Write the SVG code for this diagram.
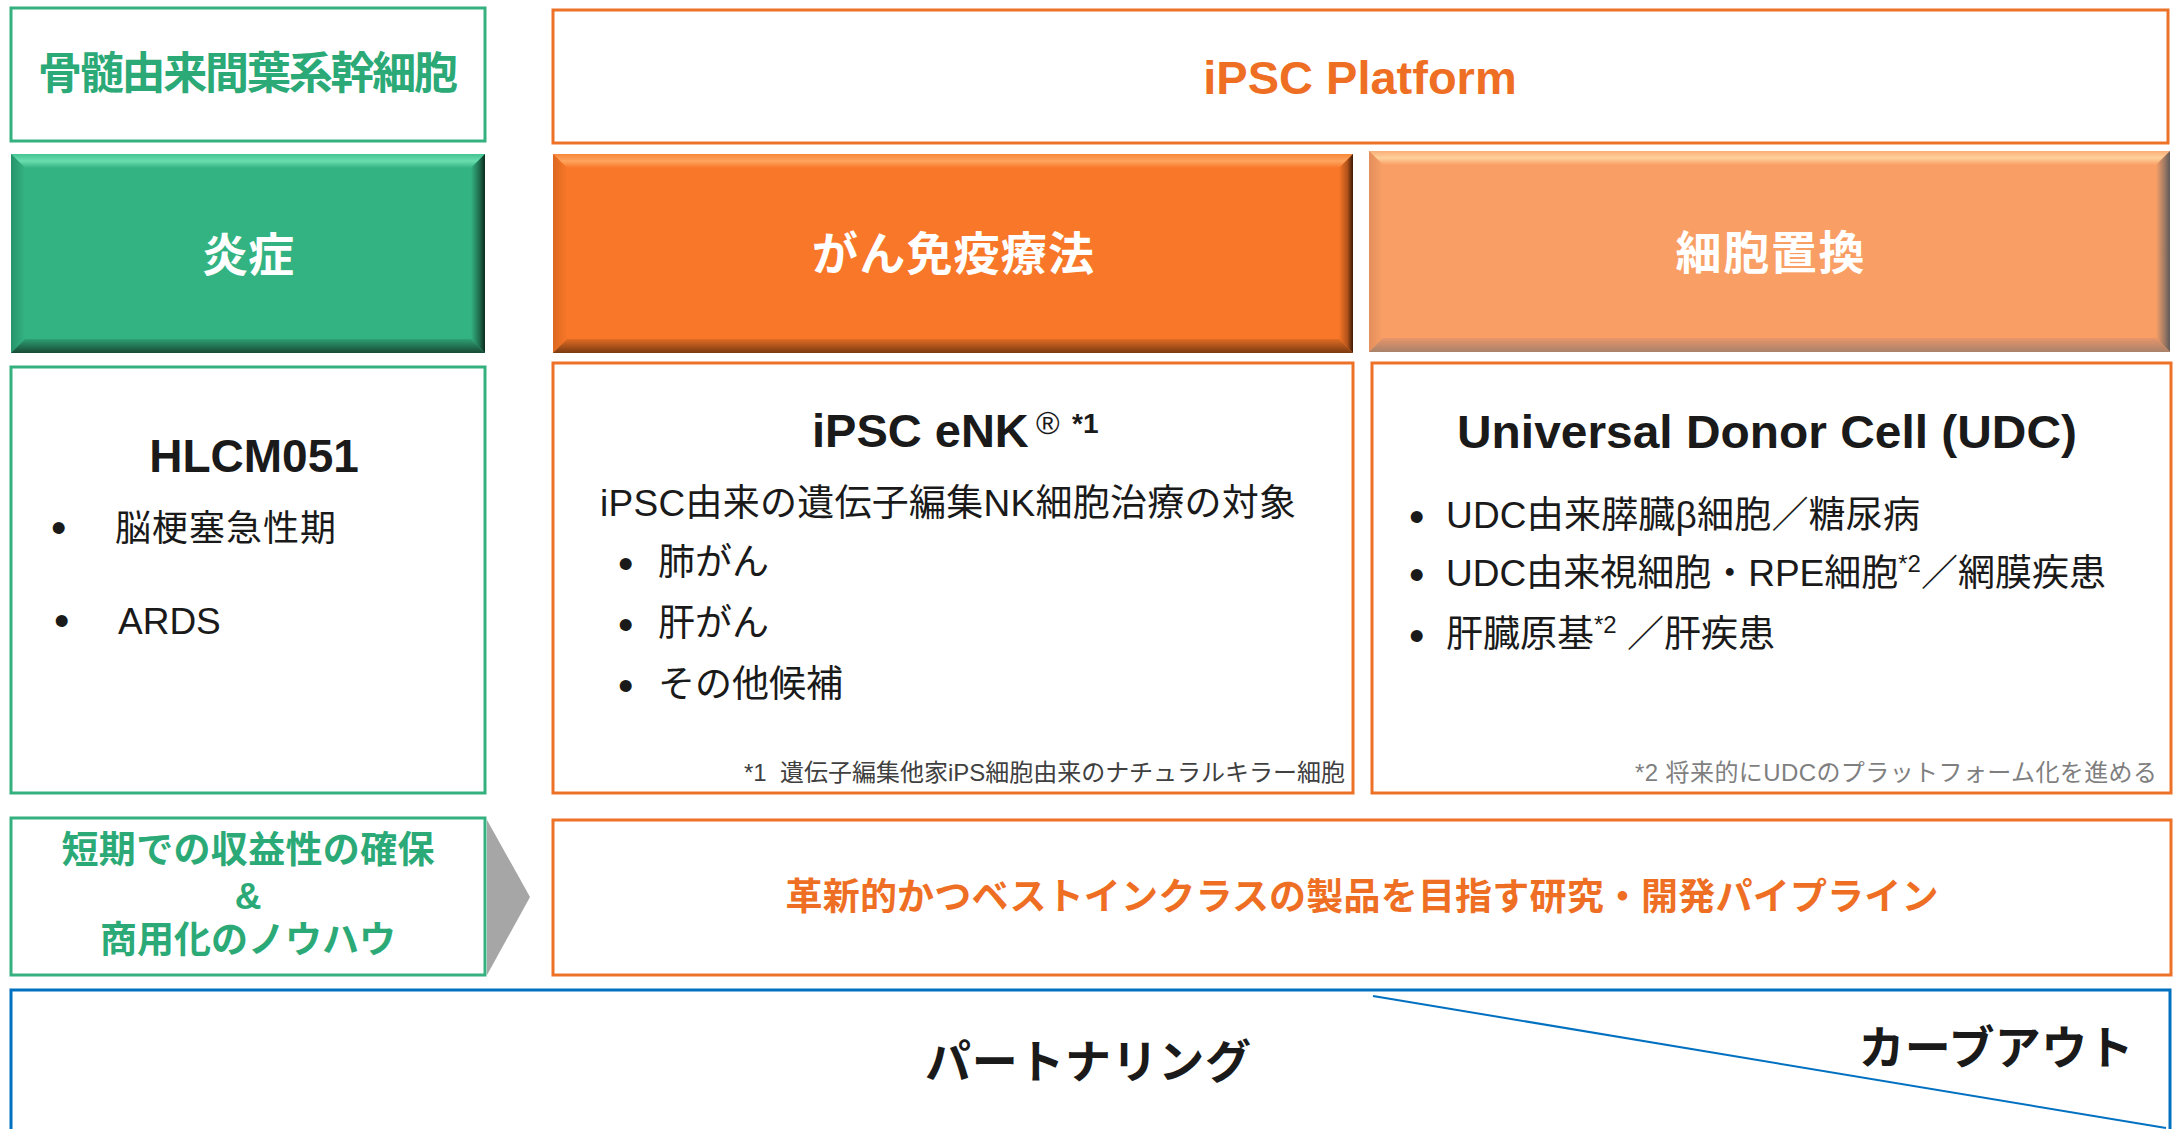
<svg xmlns="http://www.w3.org/2000/svg" width="2175" height="1129" viewBox="0 0 2175 1129">
<style>
.gbox{fill:#fff;stroke:#35B07F;stroke-width:3}
.obox{fill:#fff;stroke:#EE7128;stroke-width:3}
.bbox{fill:#fff;stroke:#0070C0;stroke-width:3}
.jp{font-family:"Liberation Sans","Noto Sans CJK JP",sans-serif}
.b{font-weight:700}
.c{text-anchor:middle}
.e{text-anchor:end}
.green{fill:#2BAA77}
.orange{fill:#EE6F24}
.white{fill:#fff}
.dark{fill:#1a1a1a}
.hd{font-size:46px}
.body{font-size:37px}
.fn{font-size:24px}
.bul{font-size:44px}
</style>
<defs>
<linearGradient id="gT" x1="0" y1="0" x2="0" y2="1"><stop offset="0" stop-color="#45C493"/><stop offset="0.5" stop-color="#6ADDAE"/><stop offset="1" stop-color="#34B382"/></linearGradient>
<linearGradient id="gL" x1="0" y1="0" x2="1" y2="0"><stop offset="0" stop-color="#26936A"/><stop offset="1" stop-color="#34B382"/></linearGradient>
<linearGradient id="gR" x1="0" y1="0" x2="1" y2="0"><stop offset="0" stop-color="#34B382"/><stop offset="0.6" stop-color="#1F6E4E"/><stop offset="1" stop-color="#0B2A1D"/></linearGradient>
<linearGradient id="gB" x1="0" y1="0" x2="0" y2="1"><stop offset="0" stop-color="#2E9F73"/><stop offset="1" stop-color="#174A35"/></linearGradient>
<linearGradient id="oT" x1="0" y1="0" x2="0" y2="1"><stop offset="0" stop-color="#F98838"/><stop offset="0.5" stop-color="#FFA45E"/><stop offset="1" stop-color="#F87729"/></linearGradient>
<linearGradient id="oL" x1="0" y1="0" x2="1" y2="0"><stop offset="0" stop-color="#DC681F"/><stop offset="1" stop-color="#F87729"/></linearGradient>
<linearGradient id="oR" x1="0" y1="0" x2="1" y2="0"><stop offset="0" stop-color="#F87729"/><stop offset="0.6" stop-color="#B0521A"/><stop offset="1" stop-color="#3A1A05"/></linearGradient>
<linearGradient id="oB" x1="0" y1="0" x2="0" y2="1"><stop offset="0" stop-color="#E06C24"/><stop offset="1" stop-color="#7A3A10"/></linearGradient>
<linearGradient id="lT" x1="0" y1="0" x2="0" y2="1"><stop offset="0" stop-color="#FAAE78"/><stop offset="0.5" stop-color="#FFD09A"/><stop offset="1" stop-color="#F99F66"/></linearGradient>
<linearGradient id="lL" x1="0" y1="0" x2="1" y2="0"><stop offset="0" stop-color="#E38F5C"/><stop offset="1" stop-color="#F99F66"/></linearGradient>
<linearGradient id="lR" x1="0" y1="0" x2="1" y2="0"><stop offset="0" stop-color="#F99F66"/><stop offset="0.6" stop-color="#A07A64"/><stop offset="1" stop-color="#5E5A58"/></linearGradient>
<linearGradient id="lB" x1="0" y1="0" x2="0" y2="1"><stop offset="0" stop-color="#E8956A"/><stop offset="1" stop-color="#A8826A"/></linearGradient>
</defs>

<rect width="2175" height="1129" fill="#fff"/>

<g id="msc-header">
<rect class="gbox" x="11" y="8" width="474" height="133"/>
<text class="jp b green c" x="248" y="89" font-size="44" textLength="420" lengthAdjust="spacing">骨髄由来間葉系幹細胞</text>
</g>

<g id="ipsc-platform">
<rect class="obox" x="553" y="10" width="1615" height="133"/>
<text class="jp b orange c" x="1360" y="94" font-size="47">iPSC Platform</text>
</g>

<g id="inflammation">
<rect x="11" y="154" width="474" height="199" fill="#34B382"/>
<polygon points="11,154 485,154 471,168 25,168" fill="url(#gT)"/>
<polygon points="11,154 25,168 25,339 11,353" fill="url(#gL)"/>
<polygon points="485,154 485,353 471,339 471,168" fill="url(#gR)"/>
<polygon points="11,353 25,339 471,339 485,353" fill="url(#gB)"/>
<text class="jp b white c hd" x="248" y="271">炎症</text>
</g>

<g id="cancer-immuno">
<rect x="553" y="154" width="800" height="199" fill="#F87729"/>
<polygon points="553,154 1353,154 1339,168 567,168" fill="url(#oT)"/>
<polygon points="553,154 567,168 567,339 553,353" fill="url(#oL)"/>
<polygon points="1353,154 1353,353 1339,339 1339,168" fill="url(#oR)"/>
<polygon points="553,353 567,339 1339,339 1353,353" fill="url(#oB)"/>
<text class="jp b white c hd" x="953" y="270" textLength="282" lengthAdjust="spacing">がん免疫療法</text>
</g>

<g id="cell-replacement">
<rect x="1369" y="151" width="801" height="201" fill="#F99F66"/>
<polygon points="1369,151 2170,151 2156,165 1383,165" fill="url(#lT)"/>
<polygon points="1369,151 1383,165 1383,338 1369,352" fill="url(#lL)"/>
<polygon points="2170,151 2170,352 2156,338 2156,165" fill="url(#lR)"/>
<polygon points="1369,352 1383,338 2156,338 2170,352" fill="url(#lB)"/>
<text class="jp b white c hd" x="1770" y="269" textLength="189" lengthAdjust="spacing">細胞置換</text>
</g>

<g id="hlcm051">
<rect class="gbox" x="11" y="367" width="474" height="426"/>
<text class="jp b dark c" x="254" y="472" font-size="46">HLCM051</text>
<text class="jp dark bul" x="51" y="543">•</text>
<text class="jp dark" x="115" y="541" font-size="36" textLength="221" lengthAdjust="spacing">脳梗塞急性期</text>
<text class="jp dark bul" x="54" y="636">•</text>
<text class="jp dark" x="118" y="634" font-size="37">ARDS</text>
</g>

<g id="ipsc-enk">
<rect class="obox" x="553" y="363" width="800" height="430"/>
<text class="jp b dark" x="812" y="447" font-size="47">iPSC eNK</text>
<text class="jp dark" x="1036" y="434" font-size="32">®</text>
<text class="jp b dark" x="1072" y="433" font-size="28">*1</text>
<text class="jp dark body" x="600" y="516" textLength="696" lengthAdjust="spacing">iPSC由来の遺伝子編集NK細胞治療の対象</text>
<text class="jp dark bul" x="618" y="579">•</text>
<text class="jp dark body" x="658" y="575">肺がん</text>
<text class="jp dark bul" x="618" y="640">•</text>
<text class="jp dark body" x="658" y="636">肝がん</text>
<text class="jp dark bul" x="618" y="701">•</text>
<text class="jp dark body" x="658" y="697">その他候補</text>
<text class="jp fn e" x="1345" y="781" fill="#404040" xml:space="preserve" textLength="601" lengthAdjust="spacing">*1  遺伝子編集他家iPS細胞由来のナチュラルキラー細胞</text>
</g>

<g id="udc">
<rect class="obox" x="1372" y="363" width="799" height="430"/>
<text class="jp b dark c" x="1767" y="448" font-size="47" textLength="620" lengthAdjust="spacingAndGlyphs">Universal Donor Cell (UDC)</text>
<text class="jp dark bul" x="1409" y="532">•</text>
<text class="jp dark body" x="1446" y="528" textLength="474" lengthAdjust="spacing">UDC由来膵臓β細胞／糖尿病</text>
<text class="jp dark bul" x="1409" y="590">•</text>
<text class="jp dark body" x="1446" y="586">UDC由来視細胞・RPE細胞<tspan font-size="24" dy="-14">*2</tspan><tspan dy="14">／網膜疾患</tspan></text>
<text class="jp dark bul" x="1409" y="651">•</text>
<text class="jp dark body" x="1446" y="647">肝臓原基<tspan font-size="24" dy="-14">*2</tspan><tspan dy="14"> ／肝疾患</tspan></text>
<text class="jp fn e" x="2157" y="781" fill="#7F7F7F" xml:space="preserve" textLength="522" lengthAdjust="spacing">*2 将来的にUDCのプラットフォーム化を進める</text>
</g>

<g id="short-term">
<rect class="gbox" x="11" y="818" width="474" height="157"/>
<text class="jp b green c body" x="248" y="863" textLength="373" lengthAdjust="spacing">短期での収益性の確保</text>
<text class="jp b green c body" x="248" y="909">&amp;</text>
<text class="jp b green c body" x="248" y="953" textLength="296" lengthAdjust="spacing">商用化のノウハウ</text>
</g>

<g id="pipeline">
<rect class="obox" x="553" y="820" width="1618" height="155"/>
<text class="jp b orange c body" x="1362" y="910" textLength="1153" lengthAdjust="spacing">革新的かつベストインクラスの製品を目指す研究・開発パイプライン</text>
</g>

<g id="partnering">
<rect class="bbox" x="11" y="990" width="2159" height="160"/>
<text class="jp b dark c hd" x="1088" y="1078" textLength="326" lengthAdjust="spacing">パートナリング</text>
<text class="jp b dark c hd" x="1996" y="1064" textLength="275" lengthAdjust="spacing">カーブアウト</text>
</g>

<g id="connectors">
<polygon points="487,820 530,897 487,975" fill="#A6A6A6"/>
<line x1="1373" y1="996" x2="2166" y2="1128" stroke="#0070C0" stroke-width="2"/>
</g>
</svg>
